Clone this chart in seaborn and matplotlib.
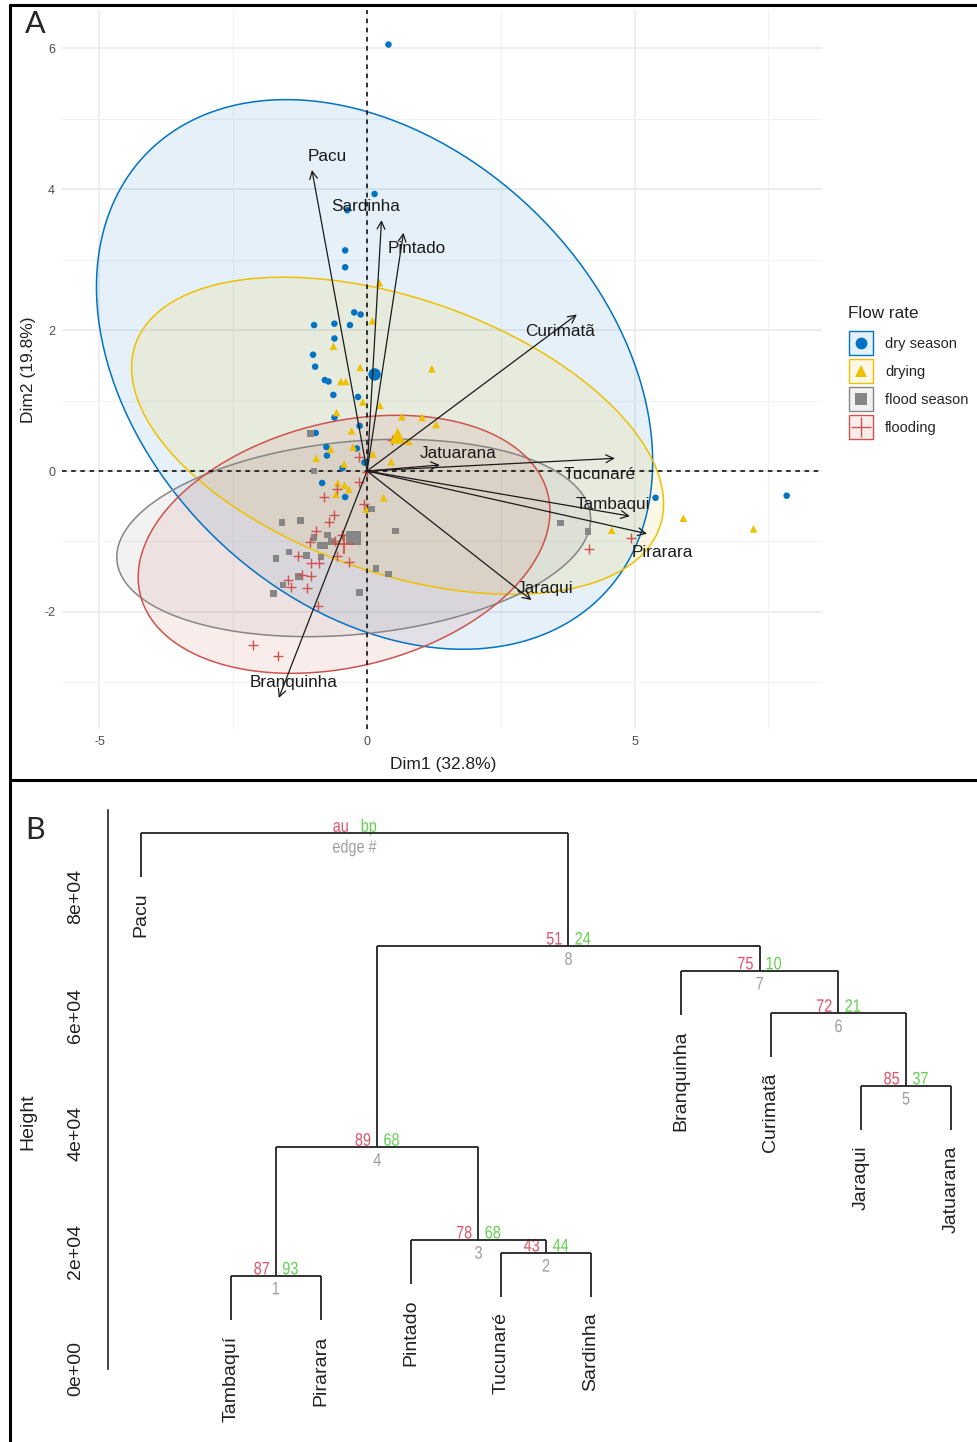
import numpy as np
import pandas as pd
import matplotlib
matplotlib.use("Agg")
import matplotlib.pyplot as plt
import matplotlib.transforms as mtransforms
from matplotlib.lines import Line2D
from matplotlib.patches import Rectangle, PathPatch
from matplotlib.legend_handler import HandlerBase
from matplotlib.textpath import TextPath
from matplotlib.font_manager import FontProperties
import seaborn as sns

# ---------------- PCA individuals, by flow-rate class ----------------
dry_x = [0.40, 0.14, -0.37, -0.41, -0.41, -0.24, -0.12, -0.99, -0.61, -0.32, -0.61, -1.01,
         -0.97, -0.79, -0.72, -0.63, -0.17, -0.61, -0.14, -0.96, -0.76, -0.19, -0.75, -0.05,
         -0.46, -0.84, -0.41, 5.39, 7.84]
dry_y = [6.05, 3.93, 3.70, 3.13, 2.89, 2.25, 2.22, 2.07, 2.09, 2.07, 1.88, 1.65,
         1.48, 1.29, 1.27, 1.08, 1.05, 0.76, 0.64, 0.54, 0.34, 0.32, 0.22, 0.12,
         0.04, -0.17, -0.37, -0.38, -0.35]

drying_x = [0.23, 0.10, -0.63, -0.13, 1.21, -0.49, -0.40, -0.08, 0.24, -0.57, 0.65, 1.03,
            1.29, -0.29, 0.78, -0.68, -0.26, -0.95, 0.11, 0.45, -0.43, -0.55, -0.42, -0.34,
            -0.58, 0.31, -0.02, 4.57, 5.91, 7.22]
drying_y = [2.67, 2.13, 1.77, 1.47, 1.45, 1.27, 1.27, 0.98, 0.93, 0.83, 0.77, 0.76,
            0.66, 0.57, 0.42, 0.31, 0.34, 0.18, 0.24, 0.13, 0.10, -0.17, -0.20, -0.26,
            -0.33, -0.38, -0.54, -0.84, -0.67, -0.82]

flood_x = [-1.06, -0.99, 0.08, -1.59, -1.24, 0.53, -0.74, -0.99, -0.88, -0.80, -0.66, -1.70,
           -1.46, -1.13, -0.86, 0.17, 0.40, -1.28, -1.57, -1.75, -0.14, 3.61, 4.13]
flood_y = [0.53, 0.00, -0.54, -0.73, -0.70, -0.85, -0.91, -0.94, -1.06, -1.06, -1.00, -1.24,
           -1.15, -1.20, -1.22, -1.38, -1.46, -1.50, -1.62, -1.74, -1.72, -0.74, -0.86]

flooding_x = [0.47, -0.16, -0.01, -0.16, -0.57, -0.80, -0.05, -0.61, -0.71, -0.96, -0.47, -1.06,
              -0.60, -0.57, -1.29, -1.04, -0.89, -0.34, -1.21, -1.04, -1.47, -1.42, -1.13, -0.92,
              -2.13, -1.67, 4.15, 4.94]
flooding_y = [0.44, 0.20, -0.01, -0.15, -0.25, -0.37, -0.47, -0.62, -0.73, -0.85, -0.91, -1.01,
              -1.00, -1.21, -1.20, -1.31, -1.30, -1.29, -1.48, -1.49, -1.55, -1.64, -1.66, -1.92,
              -2.47, -2.62, -1.11, -0.95]

group_names = ["dry season", "drying", "flood season", "flooding"]
group_colors = ["#0073C2", "#EFC000", "#868686", "#CD534C"]
group_markers = ["o", "^", "s", "+"]

# group centroids and 95% normal-ellipse covariance terms
group_mean_x = [0.14, 0.57, -0.25, -0.43]
group_mean_y = [1.37, 0.50, -0.95, -1.04]
ell_xx = [27.0, 24.7, 19.6, 14.8]
ell_xy = [-6.45, -4.8, 1.2, 1.8]
ell_yy = [15.2, 5.06, 1.96, 3.35]

# variable loadings (arrows)
var_names = ["Pacu", "Sardinha", "Pintado", "Curimatã", "Jatuarana",
             "Tucunaré", "Tambaqui", "Pirarara", "Jaraqui", "Branquinha"]
var_x = [-1.03, 0.27, 0.68, 3.92, 1.36, 4.63, 4.91, 5.23, 3.07, -1.65]
var_y = [4.27, 3.56, 3.38, 2.22, 0.085, 0.18, -0.64, -0.89, -1.83, -3.22]

# ---------------- hierarchical clustering (pvclust) ----------------
leaf_labels = ["Pacu", "Tambaquí", "Pirarara", "Pintado", "Tucunaré",
               "Sardinha", "Branquinha", "Curimatã", "Jaraqui", "Jatuarana"]
merge_left = [-2, -5, -4, 1, -9, -8, -7, 4, -1]
merge_right = [-3, -6, 2, 3, -10, 5, 6, 7, 8]
merge_height = [1.58e4, 1.97e4, 2.19e4, 3.76e4, 4.80e4, 6.03e4, 6.75e4, 7.17e4, 9.08e4]
au_values = ["87", "43", "78", "89", "85", "72", "75", "51", "au"]
bp_values = ["93", "44", "68", "68", "37", "21", "10", "24", "bp"]
edge_ids = ["1", "2", "3", "4", "5", "6", "7", "8", "edge #"]

height_ticks = [0, 2e4, 4e4, 6e4, 8e4]
height_tick_labels = ["0e+00", "2e+04", "4e+04", "6e+04", "8e+04"]

# ---------------- style ----------------
sns.set_style("white")
FONT = ["Liberation Sans", "DejaVu Sans"]
plt.rcParams["font.family"] = FONT
plt.rcParams["axes.unicode_minus"] = False

W, H = 977, 1442
fig = plt.figure(figsize=(W / 100, H / 100), dpi=100)


def fx(px):
    return px / W


def fy(py):
    return 1 - py / H


SQUEEZE = 0.8


def narrow_label(ax, s, x, y, dx, dy, ha, va, size, color):
    """Horizontally condensed text anchored at data point (x, y), offsets in points."""
    tp = TextPath((0, 0), s, size=size, prop=FontProperties(family="Liberation Sans"))
    ext = tp.get_extents()
    if ha == "right":
        ox = -ext.x1 * SQUEEZE
    elif ha == "left":
        ox = -ext.x0 * SQUEEZE
    else:
        ox = -(ext.x0 + ext.x1) / 2 * SQUEEZE
    oy = -ext.y1 if va == "top" else 0.0
    k = fig.dpi / 72
    tr = (mtransforms.Affine2D().scale(SQUEEZE, 1).translate(ox + dx, oy + dy).scale(k)
          + mtransforms.ScaledTranslation(x, y, ax.transData))
    ax.add_artist(PathPatch(tp, transform=tr, facecolor=color, edgecolor="none",
                            lw=0, clip_on=False))


class GroupKey:
    def __init__(self, color, marker):
        self.color = color
        self.marker = marker


class GroupKeyHandler(HandlerBase):
    """Square key tinted like the ellipse, with the group marker centred on it."""

    def create_artists(self, legend, orig_handle, xdescent, ydescent, width, height,
                       fontsize, trans):
        cx = width / 2 - xdescent
        cy = height / 2 - ydescent
        side = 17.5
        rgb = matplotlib.colors.to_rgb(orig_handle.color)
        box = Rectangle((cx - side / 2, cy - side / 2), side, side,
                        facecolor=(*rgb, 0.1), edgecolor=orig_handle.color, lw=1.0,
                        transform=trans)
        plus = orig_handle.marker == "+"
        mk = Line2D([cx], [cy], marker=orig_handle.marker, color=orig_handle.color,
                    linestyle="none", markersize=15 if plus else 8.5,
                    markeredgewidth=1.0 if plus else 0, transform=trans)
        return [box, mk]


# ================= Panel A : PCA biplot =================
axA = fig.add_axes([fx(62), fy(729), fx(822) - fx(62), fy(10) - fy(729)])
axA.set_xlim(-5.70, 8.50)
axA.set_ylim(-3.66, 6.54)
axA.set_xticks([-5, 0, 5])
axA.set_xticks([-2.5, 2.5, 7.5], minor=True)
axA.set_yticks([-2, 0, 2, 4, 6])
axA.set_yticks([-3, -1, 1, 3, 5], minor=True)
axA.grid(which="major", color="#EBEBEB", lw=1.2, zorder=0)
axA.grid(which="minor", color="#F2F2F2", lw=0.8, zorder=0)
axA.set_axisbelow(True)
for s in axA.spines.values():
    s.set_visible(False)
axA.tick_params(which="major", length=3, width=0.8, color="#333333",
                labelsize=9, labelcolor="#4D4D4D", pad=2)
axA.tick_params(which="minor", length=0)

# confidence ellipses
t = np.linspace(0, 2 * np.pi, 300)
circle = np.vstack([np.cos(t), np.sin(t)])
for i in range(4):
    cov = np.array([[ell_xx[i], ell_xy[i]], [ell_xy[i], ell_yy[i]]])
    L = np.linalg.cholesky(cov)
    pts = np.array([[group_mean_x[i]], [group_mean_y[i]]]) + L @ circle
    axA.fill(pts[0], pts[1], color=group_colors[i], alpha=0.1, lw=0, zorder=1)
    axA.plot(pts[0], pts[1], color=group_colors[i], lw=1.1, zorder=1.2)

axA.axhline(0, color="black", lw=1.1, ls=(0, (3, 3)), zorder=1.5)
axA.axvline(0, color="black", lw=1.1, ls=(0, (3, 3)), zorder=1.5)

# individuals
groups_xy = [(dry_x, dry_y), (drying_x, drying_y), (flood_x, flood_y), (flooding_x, flooding_y)]
small_sizes = [22, 30, 22, 55]
big_sizes = [80, 130, 110, 200]
for i, (gx, gy) in enumerate(groups_xy):
    df = pd.DataFrame({"Dim1": gx, "Dim2": gy})
    if group_markers[i] == "+":
        sns.scatterplot(data=df, x="Dim1", y="Dim2", ax=axA, color=group_colors[i],
                        marker="+", s=small_sizes[i], linewidth=1.0, zorder=2, legend=False)
        sns.scatterplot(x=[group_mean_x[i]], y=[group_mean_y[i]], ax=axA, color=group_colors[i],
                        marker="+", s=big_sizes[i], linewidth=1.3, zorder=2.1, legend=False)
    else:
        sns.scatterplot(data=df, x="Dim1", y="Dim2", ax=axA, color=group_colors[i],
                        marker=group_markers[i], s=small_sizes[i], linewidth=0,
                        edgecolor="none", zorder=2, legend=False)
        sns.scatterplot(x=[group_mean_x[i]], y=[group_mean_y[i]], ax=axA, color=group_colors[i],
                        marker=group_markers[i], s=big_sizes[i], linewidth=0,
                        edgecolor="none", zorder=2.1, legend=False)

# variable arrows and their labels (label offsets in points)
label_offsets = {
    "Pacu": (10.8, 9.6), "Sardinha": (-11.3, 9.6), "Pintado": (9.6, -11.5),
    "Curimatã": (-12, -12), "Jatuarana": (13, 8.6), "Tucunaré": (-10.8, -12),
    "Tambaqui": (-12, 8.4), "Pirarara": (11, -13.5), "Jaraqui": (9.6, 8.4),
    "Branquinha": (10.8, 10.8),
}
for name, vx, vy in zip(var_names, var_x, var_y):
    axA.annotate("", xy=(vx, vy), xytext=(0, 0),
                 arrowprops=dict(arrowstyle="->,head_length=0.55,head_width=0.28",
                                 color="#1A1A1A", lw=0.9, shrinkA=0, shrinkB=0),
                 zorder=3)
    dx, dy = label_offsets[name]
    axA.annotate(name, xy=(vx, vy), xytext=(dx, dy), textcoords="offset points",
                 ha="center", va="center", fontsize=12.3, color="#1A1A1A", zorder=4)

axA.set_xlabel("")
axA.set_ylabel("")
fig.text(fx(443), fy(765), "Dim1 (32.8%)", ha="center", va="center", fontsize=12.5, color="#222222")
fig.text(fx(28), fy(370), "Dim2 (19.8%)", ha="center", va="center", rotation=90,
         fontsize=12.5, color="#222222")

# legend
fig.text(fx(848), fy(313), "Flow rate", ha="left", va="center", fontsize=12.3, color="#222222")
keys = [GroupKey(c, m) for c, m in zip(group_colors, group_markers)]
fig.legend(keys, group_names, loc="upper left", bbox_to_anchor=(fx(850), fy(334)),
           frameon=False, handler_map={GroupKey: GroupKeyHandler()},
           handlelength=1.55, handleheight=1.55, handletextpad=0.85,
           labelspacing=0.66, fontsize=10.5, borderpad=0, borderaxespad=0)

fig.text(fx(35), fy(24), "A", ha="center", va="center", fontsize=22,
         family=["Lato", "DejaVu Sans"])

# ================= Panel B : dendrogram =================
axB = fig.add_axes([fx(108), fy(1369), 1 - fx(108), fy(809.6) - fy(1369)])
axB.set_xlim(1 - 33 / 90, 1 + 836 / 90)
axB.set_ylim(0, 9.48e4)
for s in ["top", "right", "bottom"]:
    axB.spines[s].set_visible(False)
axB.spines["left"].set_color("#222222")
axB.spines["left"].set_linewidth(1.2)
axB.set_xticks([])
axB.set_yticks(height_ticks)
axB.set_yticklabels(height_tick_labels, rotation=90, va="center", fontsize=14, color="#222222")
axB.tick_params(axis="y", length=6, width=1.1, color="#222222", pad=11)
axB.patch.set_alpha(0)

heights = np.array(merge_height)
hang = 0.1 * (heights.max() - heights.min())
node_x = {}
line_kw = dict(color="#222222", lw=1.3, solid_capstyle="butt")
for k in range(len(merge_left)):
    h = heights[k]
    xs = []
    for c in (merge_left[k], merge_right[k]):
        if c < 0:
            x = float(-c)
            y0 = h - hang
            axB.annotate(leaf_labels[-c - 1], xy=(x, y0), xytext=(0, -11),
                         textcoords="offset points", rotation=90, rotation_mode="anchor",
                         ha="right", va="center", fontsize=14, color="#222222",
                         annotation_clip=False)
        else:
            x = node_x[c]
            y0 = heights[c - 1]
        axB.plot([x, x], [y0, h], **line_kw)
        xs.append(x)
    axB.plot(xs, [h, h], **line_kw)
    cx = sum(xs) / 2
    node_x[k + 1] = cx
    narrow_label(axB, au_values[k], cx, h, -5, 1, "right", "baseline", 13, "#DF536B")
    narrow_label(axB, bp_values[k], cx, h, 5, 1, "left", "baseline", 13, "#61D04F")
    narrow_label(axB, edge_ids[k], cx, h, 0, -4.5, "center", "top", 13, "#9E9E9E")

fig.text(fx(28), fy(1122), "Height", ha="center", va="center", rotation=90,
         fontsize=14, color="#222222")
fig.text(fx(35), fy(830), "B", ha="center", va="center", fontsize=22,
         family=["Lato", "DejaVu Sans"])

# panel frames
frame_kw = dict(color="black", lw=2.2, transform=fig.transFigure)
fig.add_artist(Line2D([fx(10), 1], [fy(5), fy(5)], **frame_kw))
fig.add_artist(Line2D([fx(10), fx(10)], [fy(5), 0], **frame_kw))
fig.add_artist(Line2D([fx(10), 1], [fy(780), fy(780)], **frame_kw))

fig.savefig("out.png", dpi=100)
